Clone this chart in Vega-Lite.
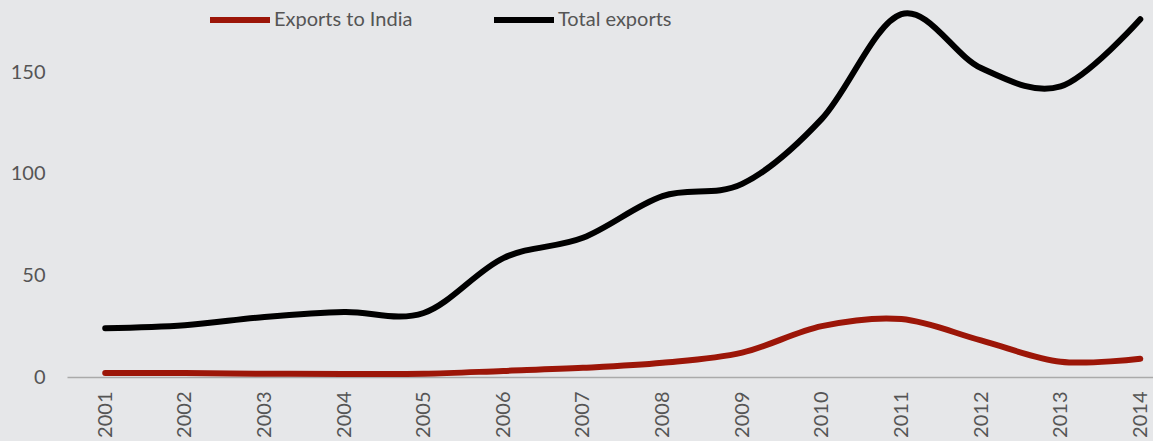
{
  "$schema": "https://vega.github.io/schema/vega-lite/v6.json",
  "width": 1086,
  "height": 376,
  "autosize": {"type": "none"},
  "padding": {"left": 67, "top": 1, "right": 0, "bottom": 64},
  "background": "#e6e7e9",
  "config": {
    "view": {"stroke": null},
    "font": "Lato",
    "axis": {"labelFont": "Lato", "labelColor": "#555555", "labelFontSize": 20, "title": null, "grid": false, "ticks": false}
  },
  "data": {
    "values": [
      {"year": 2001, "series": "Exports to India", "value": 2},
      {"year": 2002, "series": "Exports to India", "value": 2},
      {"year": 2003, "series": "Exports to India", "value": 1.6},
      {"year": 2004, "series": "Exports to India", "value": 1.5},
      {"year": 2005, "series": "Exports to India", "value": 1.6},
      {"year": 2006, "series": "Exports to India", "value": 3},
      {"year": 2007, "series": "Exports to India", "value": 4.5},
      {"year": 2008, "series": "Exports to India", "value": 7},
      {"year": 2009, "series": "Exports to India", "value": 12},
      {"year": 2010, "series": "Exports to India", "value": 25},
      {"year": 2011, "series": "Exports to India", "value": 28.5},
      {"year": 2012, "series": "Exports to India", "value": 18},
      {"year": 2013, "series": "Exports to India", "value": 7.5},
      {"year": 2014, "series": "Exports to India", "value": 9},
      {"year": 2001, "series": "Total exports", "value": 24},
      {"year": 2002, "series": "Total exports", "value": 25.5},
      {"year": 2003, "series": "Total exports", "value": 29.5},
      {"year": 2004, "series": "Total exports", "value": 32},
      {"year": 2005, "series": "Total exports", "value": 31.5},
      {"year": 2006, "series": "Total exports", "value": 58.5},
      {"year": 2007, "series": "Total exports", "value": 68.5},
      {"year": 2008, "series": "Total exports", "value": 89},
      {"year": 2009, "series": "Total exports", "value": 95},
      {"year": 2010, "series": "Total exports", "value": 127},
      {"year": 2011, "series": "Total exports", "value": 178.5},
      {"year": 2012, "series": "Total exports", "value": 152},
      {"year": 2013, "series": "Total exports", "value": 143},
      {"year": 2014, "series": "Total exports", "value": 176}
    ]
  },
  "mark": {"type": "line", "interpolate": "cardinal", "strokeWidth": 6, "strokeCap": "round"},
  "encoding": {
    "x": {
      "field": "year", "type": "quantitative",
      "scale": {"domain": [2000.52, 2014.16], "nice": false, "zero": false},
      "axis": {"values": [2001,2002,2003,2004,2005,2006,2007,2008,2009,2010,2011,2012,2013,2014], "format": "d", "labelAngle": -90, "labelPadding": 14, "domainColor": "#aaaaaa", "domainWidth": 1.5}
    },
    "y": {
      "field": "value", "type": "quantitative",
      "scale": {"domain": [0, 185], "nice": false},
      "axis": {"values": [0, 50, 100, 150], "domain": false, "labelPadding": 22}
    },
    "color": {
      "field": "series", "type": "nominal",
      "scale": {"domain": ["Exports to India", "Total exports"], "range": ["#9c1608", "#000000"]},
      "legend": {
        "title": null, "orient": "none", "direction": "horizontal", "columns": 2,
        "legendX": 140, "legendY": -14, "padding": 0,
        "symbolType": "stroke", "symbolSize": 3600, "symbolStrokeWidth": 6,
        "columnPadding": 69, "labelOffset": 1,
        "labelFont": "Lato", "labelFontSize": 20, "labelColor": "#555555", "labelLimit": 300
      }
    }
  }
}
